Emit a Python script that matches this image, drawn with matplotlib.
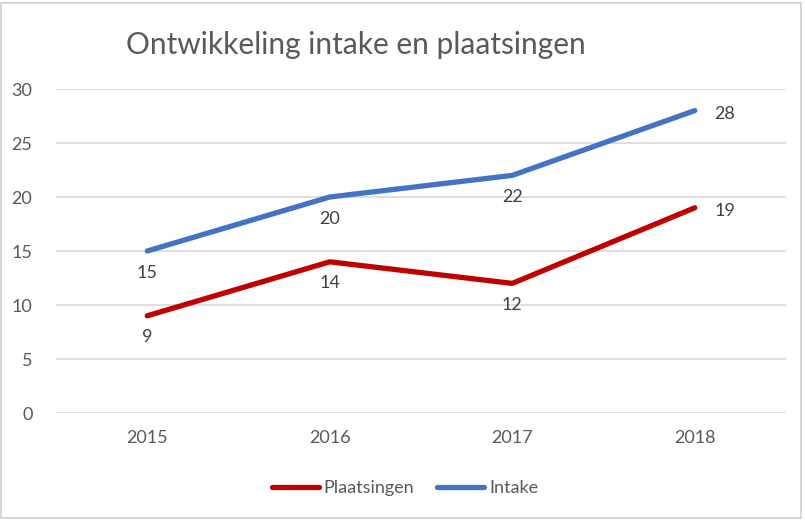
import matplotlib
matplotlib.use("Agg")
import matplotlib.pyplot as plt
from matplotlib.patches import Rectangle

years = ["2015", "2016", "2017", "2018"]
intake = [15, 20, 22, 28]
plaatsingen = [9, 14, 12, 19]
yticks = [0, 5, 10, 15, 20, 25, 30]

W, H = 805, 523
plt.rcParams['font.family'] = ['Lato', 'DejaVu Sans']
fig = plt.figure(figsize=(W / 100, H / 100), dpi=100)
fig.patch.set_facecolor('white')

def fx(px):
    return px / W

def fy(py):
    return 1 - py / H

ax = fig.add_axes([fx(56), fy(413), fx(786) - fx(56), fy(89) - fy(413)])
ax.set_xlim(-0.5, 3.5)
ax.set_ylim(0, 30)
for s in ax.spines.values():
    s.set_visible(False)
ax.set_yticks(yticks)
ax.yaxis.grid(True, color='#D9D9D9', linewidth=1.2)
ax.set_axisbelow(True)
ax.tick_params(axis='both', length=0, labelsize=13, labelcolor='#595959')
ax.tick_params(axis='y', pad=17)
ax.tick_params(axis='x', pad=12)
x = list(range(len(years)))
ax.set_xticks(x)
ax.set_xticklabels(years)

red = '#C00000'
blue = '#4472C4'
l1, = ax.plot(x, plaatsingen, color=red, linewidth=3.8, solid_capstyle='round', label='Plaatsingen')
l2, = ax.plot(x, intake, color=blue, linewidth=3.8, solid_capstyle='round', label='Intake')

for series, col in ((plaatsingen, red), (intake, blue)):
    for i, v in enumerate(series):
        if i == len(series) - 1:
            ax.annotate(str(v), (i, v), xytext=(14, -2.5), textcoords='offset points',
                        ha='left', va='center', fontsize=13, color='#404040')
        else:
            ax.annotate(str(v), (i, v), xytext=(0, -15.5), textcoords='offset points',
                        ha='center', va='center', fontsize=13, color='#404040')

fig.text(fx(356), fy(45), 'Ontwikkeling intake en plaatsingen', ha='center', va='center',
         fontsize=21.5, color='#595959')

leg = fig.legend(handles=[l1, l2], loc='center', bbox_to_anchor=(fx(405), fy(488)), ncol=2,
                 frameon=False, fontsize=13, handlelength=2.6, handletextpad=0.25,
                 columnspacing=1.3, labelcolor='#595959')

fig.add_artist(Rectangle((fx(1), fy(518)), fx(801) - fx(1), fy(3) - fy(518), transform=fig.transFigure,
                         fill=False, edgecolor='#D0D0D0', linewidth=1.2))

fig.savefig('out.png', dpi=100, facecolor='white')
